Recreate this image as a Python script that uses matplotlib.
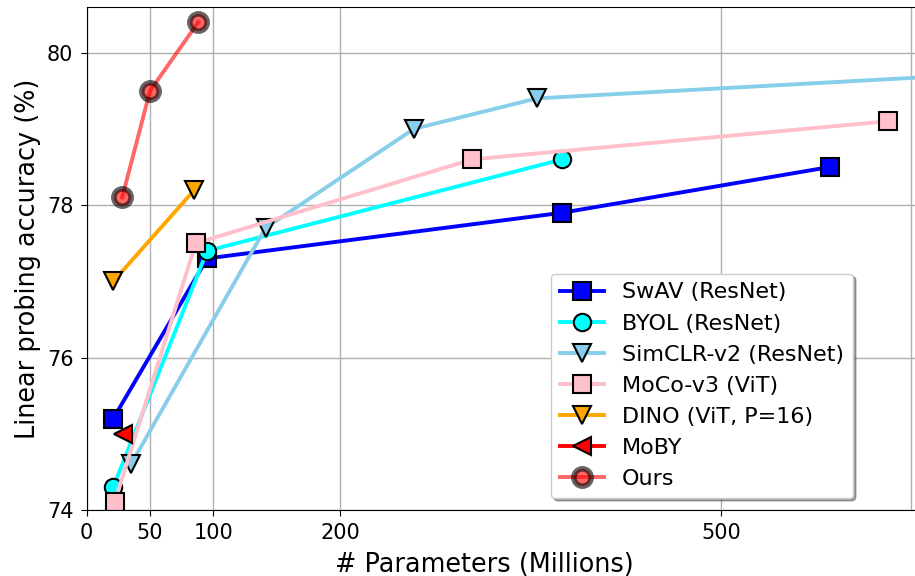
import matplotlib
matplotlib.use("Agg")
import matplotlib.pyplot as plt

# Data (params in millions, linear probing accuracy %)
swav_x = [21, 95, 375, 586]
swav_y = [75.2, 77.3, 77.9, 78.5]

byol_x = [21, 95, 375]
byol_y = [74.3, 77.4, 78.6]

simclr_x = [35, 141, 258, 355, 795]
simclr_y = [74.6, 77.7, 79.0, 79.4, 79.8]

moco_x = [22, 86, 304, 632]
moco_y = [74.1, 77.5, 78.6, 79.1]

dino_x = [21, 85]
dino_y = [77.0, 78.2]

moby_x = [29]
moby_y = [75.0]

ours_x = [28, 50, 88]
ours_y = [78.1, 79.5, 80.4]

xticks = [0, 50, 100, 200, 500]
yticks = [74, 76, 78, 80]

plt.rcParams['font.family'] = ['DejaVu Sans']
fig = plt.figure(figsize=(9.15, 5.76), dpi=100)
ax = fig.add_axes([0.0947, 0.1146, 1.054 - 0.0947, 0.988 - 0.1146])

lw = 2.8
ms = 13
ax.plot(swav_x, swav_y, 's-', color='blue', lw=lw, ms=ms, mec='black', mew=1.5, label='SwAV (ResNet)')
ax.plot(byol_x, byol_y, 'o-', color='cyan', lw=lw, ms=12.5, mec='black', mew=1.5, label='BYOL (ResNet)')
ax.plot(simclr_x, simclr_y, 'v-', color='skyblue', lw=lw, ms=ms, mec='black', mew=1.5, label='SimCLR-v2 (ResNet)')
ax.plot(moco_x, moco_y, 's-', color='pink', lw=lw, ms=ms, mec='black', mew=1.5, label='MoCo-v3 (ViT)')
ax.plot(dino_x, dino_y, 'v-', color='orange', lw=lw, ms=ms, mec='black', mew=1.5, label='DINO (ViT, P=16)')
ax.plot(moby_x, moby_y, '<-', color='red', lw=lw, ms=ms, mec='black', mew=1.5, label='MoBY')
ax.plot(ours_x, ours_y, 'o-', color='red', alpha=0.6, lw=lw, ms=12.5, mfc='red', mec='black', mew=4, label='Ours')

ax.set_xlim(0, 692)
ax.set_ylim(74, 80.6)
ax.set_xticks(xticks)
ax.set_xticklabels([str(t) for t in xticks])
ax.set_yticks(yticks)
ax.set_xticks([650], minor=True)
ax.tick_params(axis='x', which='minor', length=0)
ax.tick_params(axis='both', which='major', labelsize=15, length=4.5, pad=5)
ax.grid(True, which='major', color='#b0b0b0', lw=1)
ax.grid(True, which='minor', axis='x', color='#b0b0b0', lw=1)
ax.set_axisbelow(True)

ax.set_xlabel('# Parameters (Millions)', fontsize=18.4)
ax.set_ylabel('Linear probing accuracy (%)', fontsize=18.4)
ax.xaxis.set_label_coords(0.4527, -0.083)

ax.legend(loc='lower right', fontsize=16, shadow=True, fancybox=True, framealpha=1,
          bbox_to_anchor=(853 / 915, 1 - 498 / 576), bbox_transform=fig.transFigure,
          borderaxespad=0)

fig.savefig('out.png', dpi=100)
